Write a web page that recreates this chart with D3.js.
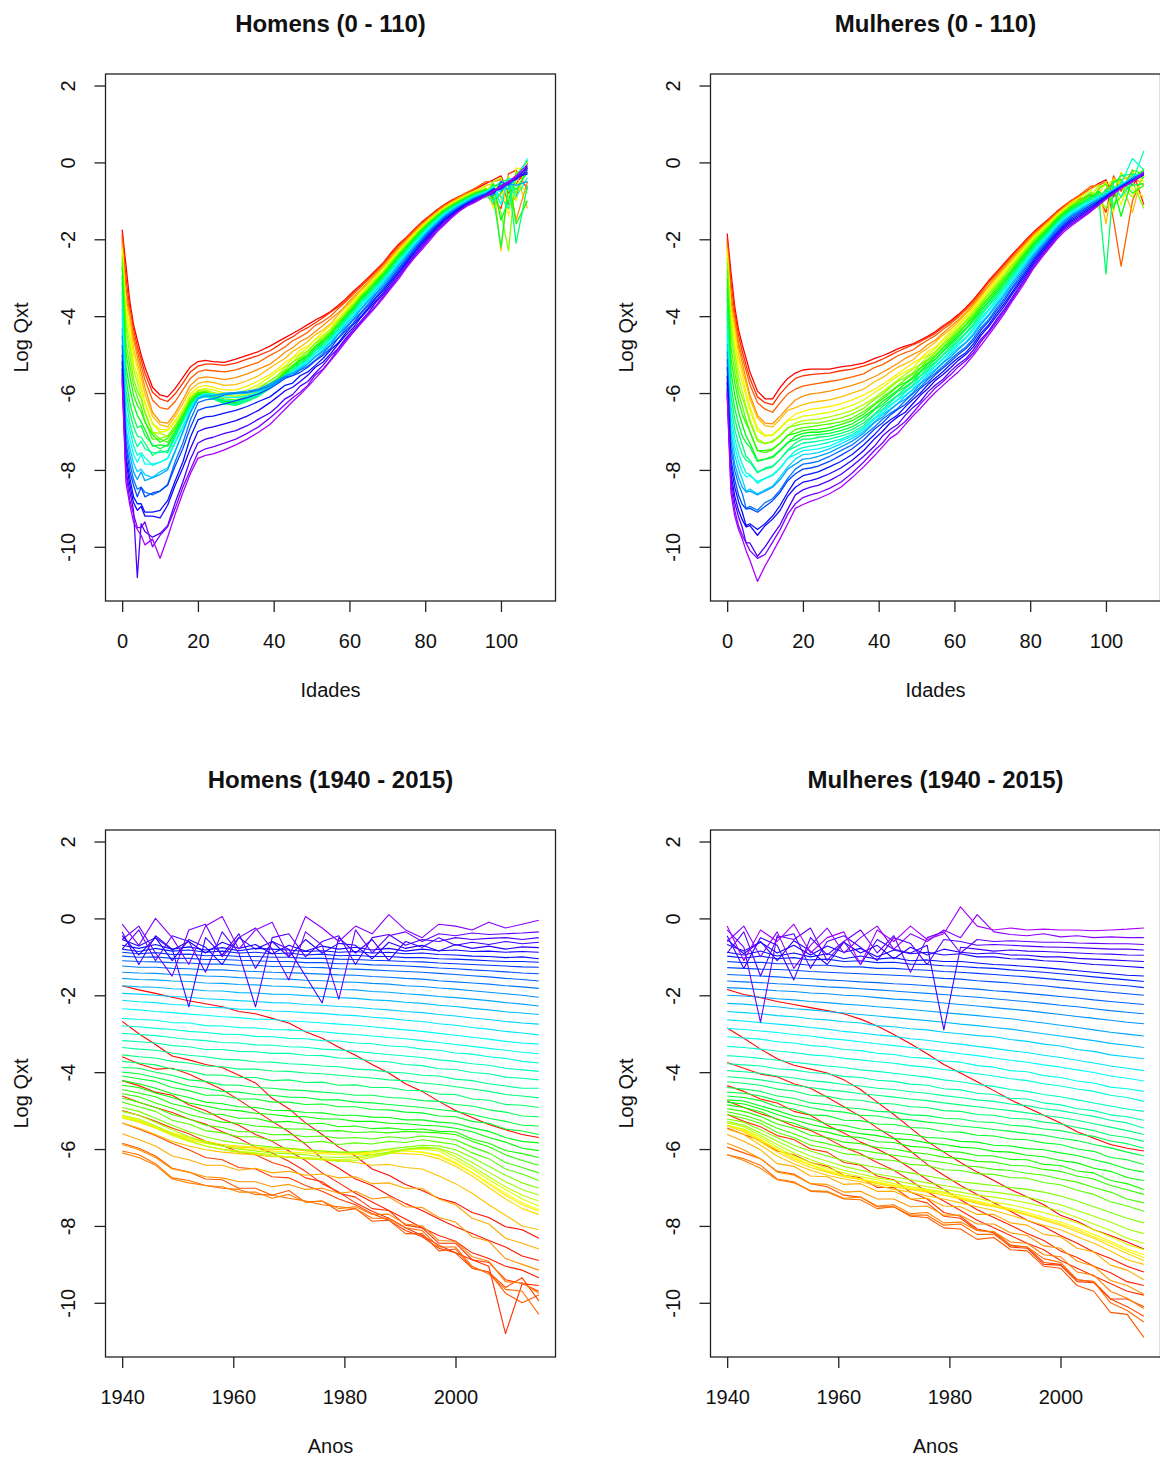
<!DOCTYPE html>
<html><head><meta charset="utf-8">
<script src="https://cdn.jsdelivr.net/npm/d3@7"></script>
<style>
body{margin:0;background:#fff}
svg{display:block}
text{font-family:"Liberation Sans",Arial,Helvetica,sans-serif;fill:#111}
</style>
</head><body>
<svg id="chart" width="1160" height="1457"></svg>
<script>
// ---------------- DATA ----------------
const years = [1940,1943,1946,1949,1952,1955,1958,1961,1964,1967,1970,1973,1976,1979,1982,1985,1988,1991,1994,1997,2000,2003,2006,2009,2012,2015];
const ages  = [0,1,2,3,4,5,6,8,10,12,14,16,18,20,22,24,27,30,33,36,
               39,41,43,45,47,49,51,53,55,57,59,61,63,65,67,69,71,73,75,77,79,81,83,85,87,89,91,93,
               96,98,100,102,104,107,110];

// log q(x,t): one row per age (order of `ages`), one value per year (order of `years`)
const menLogQ = [
 [-1.75,-1.86,-1.95,-2.05,-2.14,-2.22,-2.3,-2.42,-2.48,-2.6,-2.72,-2.95,-3.12,-3.35,-3.56,-3.8,-4.02,-4.3,-4.5,-4.76,-5.0,-5.18,-5.36,-5.5,-5.62,-5.7],
 [-2.68,-3.0,-3.28,-3.58,-3.68,-3.8,-3.88,-4.08,-4.28,-4.68,-4.95,-5.32,-5.62,-5.95,-6.18,-6.52,-6.68,-6.92,-7.08,-7.28,-7.4,-7.65,-7.78,-8.02,-8.1,-8.32],
 [-3.6,-3.78,-3.92,-3.9,-4.05,-4.25,-4.45,-4.72,-5.0,-5.28,-5.55,-5.88,-6.25,-6.5,-6.78,-6.95,-7.2,-7.42,-7.6,-7.82,-8.02,-8.2,-8.38,-8.55,-8.78,-8.9],
 [-4.22,-4.35,-4.52,-4.6,-4.85,-5.0,-5.22,-5.38,-5.62,-5.8,-6.05,-6.3,-6.62,-6.88,-7.15,-7.38,-7.6,-7.82,-8.05,-8.25,-8.4,-8.7,-8.85,-9.05,-9.15,-9.35],
 [-4.62,-4.78,-4.92,-5.05,-5.22,-5.35,-5.55,-5.72,-5.95,-6.1,-6.32,-6.58,-6.9,-7.12,-7.4,-7.62,-7.8,-8.05,-8.25,-8.5,-8.7,-8.88,-9.05,-10.8,-9.5,-9.55],
 [-5.0,-5.12,-5.28,-5.45,-5.6,-5.8,-5.9,-6.08,-6.15,-6.35,-6.48,-6.75,-6.85,-7.15,-7.25,-7.55,-7.6,-7.98,-8.05,-8.45,-8.45,-8.88,-8.95,-9.4,-9.5,-9.7],
 [-5.32,-5.48,-5.65,-5.85,-6.02,-6.22,-6.28,-6.48,-6.52,-6.72,-6.75,-6.95,-7.1,-7.3,-7.45,-7.68,-7.85,-8.12,-8.28,-8.58,-8.7,-9.1,-9.2,-9.6,-9.35,-9.95],
 [-5.85,-5.98,-6.18,-6.5,-6.6,-6.78,-6.8,-7.02,-7.02,-7.2,-7.08,-7.38,-7.35,-7.62,-7.55,-7.88,-7.85,-8.2,-8.2,-8.65,-8.6,-9.1,-9.2,-9.75,-10.0,-9.8],
 [-6.05,-6.15,-6.38,-6.75,-6.82,-6.95,-7.02,-7.05,-7.18,-7.2,-7.28,-7.35,-7.45,-7.5,-7.55,-7.8,-7.8,-8.05,-8.12,-8.55,-8.55,-9.05,-9.25,-9.65,-9.7,-10.3],
 [-6.1,-6.22,-6.42,-6.78,-6.88,-6.95,-6.98,-7.12,-7.12,-7.28,-7.18,-7.38,-7.35,-7.55,-7.5,-7.7,-7.7,-7.95,-8.0,-8.38,-8.4,-8.8,-8.92,-9.45,-9.48,-9.75],
 [-5.88,-6.02,-6.22,-6.52,-6.6,-6.72,-6.75,-6.85,-6.85,-6.98,-6.92,-7.05,-7.02,-7.15,-7.1,-7.3,-7.25,-7.5,-7.52,-7.78,-7.9,-8.28,-8.4,-8.85,-9.0,-9.15],
 [-5.6,-5.75,-5.92,-6.18,-6.28,-6.42,-6.42,-6.55,-6.5,-6.62,-6.58,-6.68,-6.65,-6.75,-6.72,-6.9,-6.88,-7.02,-7.02,-7.3,-7.45,-7.8,-7.95,-8.32,-8.45,-8.6],
 [-5.32,-5.45,-5.62,-5.8,-5.92,-6.02,-6.08,-6.12,-6.15,-6.2,-6.2,-6.25,-6.28,-6.3,-6.35,-6.42,-6.4,-6.48,-6.52,-6.7,-6.9,-7.15,-7.45,-7.72,-8.0,-8.1],
 [-5.18,-5.3,-5.45,-5.62,-5.75,-5.85,-5.92,-5.95,-5.98,-6.02,-6.0,-6.05,-6.08,-6.1,-6.12,-6.15,-6.1,-6.12,-6.15,-6.25,-6.45,-6.7,-7.0,-7.3,-7.55,-7.7],
 [-5.15,-5.25,-5.4,-5.58,-5.7,-5.8,-5.88,-5.92,-5.95,-5.98,-5.98,-6.02,-6.05,-6.08,-6.1,-6.08,-6.02,-6.05,-6.08,-6.18,-6.38,-6.62,-6.92,-7.2,-7.45,-7.62],
 [-5.18,-5.25,-5.42,-5.6,-5.72,-5.85,-5.92,-5.98,-6.02,-6.05,-6.08,-6.1,-6.12,-6.15,-6.15,-6.1,-6.02,-6.05,-6.08,-6.15,-6.35,-6.6,-6.88,-7.15,-7.4,-7.58],
 [-5.2,-5.28,-5.45,-5.65,-5.8,-5.92,-6.0,-6.05,-6.1,-6.15,-6.2,-6.22,-6.25,-6.28,-6.25,-6.18,-6.1,-6.02,-6.0,-6.05,-6.28,-6.52,-6.8,-7.05,-7.3,-7.48],
 [-5.12,-5.22,-5.4,-5.6,-5.78,-5.92,-6.02,-6.08,-6.12,-6.18,-6.22,-6.25,-6.28,-6.32,-6.3,-6.22,-6.12,-6.02,-5.98,-6.0,-6.2,-6.45,-6.72,-6.98,-7.2,-7.35],
 [-5.02,-5.12,-5.3,-5.5,-5.68,-5.82,-5.92,-6.0,-6.05,-6.1,-6.12,-6.15,-6.2,-6.22,-6.2,-6.15,-6.08,-6.0,-5.95,-5.98,-6.12,-6.35,-6.6,-6.85,-7.05,-7.2],
 [-4.92,-5.02,-5.2,-5.38,-5.55,-5.68,-5.78,-5.85,-5.9,-5.95,-5.98,-6.02,-6.05,-6.08,-6.08,-6.05,-6.0,-5.95,-5.9,-5.92,-6.02,-6.22,-6.45,-6.68,-6.88,-7.02],
 [-4.78,-4.9,-5.02,-5.25,-5.35,-5.52,-5.58,-5.68,-5.68,-5.78,-5.75,-5.83,-5.8,-5.88,-5.84,-5.87,-5.8,-5.83,-5.76,-5.82,-5.88,-6.1,-6.25,-6.52,-6.65,-6.82],
 [-4.67,-4.78,-4.92,-5.1,-5.22,-5.38,-5.44,-5.55,-5.55,-5.63,-5.62,-5.68,-5.66,-5.72,-5.7,-5.74,-5.68,-5.72,-5.66,-5.7,-5.76,-5.95,-6.1,-6.35,-6.48,-6.62],
 [-4.56,-4.64,-4.8,-4.94,-5.1,-5.2,-5.3,-5.33,-5.4,-5.43,-5.48,-5.48,-5.53,-5.52,-5.57,-5.55,-5.58,-5.54,-5.56,-5.58,-5.62,-5.8,-5.94,-6.15,-6.3,-6.42],
 [-4.45,-4.54,-4.64,-4.82,-4.92,-5.08,-5.1,-5.2,-5.2,-5.3,-5.28,-5.35,-5.33,-5.42,-5.4,-5.47,-5.45,-5.5,-5.48,-5.54,-5.55,-5.74,-5.85,-6.04,-6.12,-6.22],
 [-4.34,-4.4,-4.54,-4.66,-4.8,-4.88,-4.97,-5.0,-5.07,-5.1,-5.15,-5.16,-5.22,-5.22,-5.28,-5.28,-5.33,-5.34,-5.38,-5.4,-5.46,-5.55,-5.7,-5.82,-5.98,-6.04],
 [-4.22,-4.3,-4.42,-4.56,-4.66,-4.78,-4.82,-4.9,-4.92,-4.99,-5.0,-5.05,-5.06,-5.12,-5.12,-5.17,-5.18,-5.24,-5.24,-5.3,-5.33,-5.45,-5.54,-5.7,-5.8,-5.84],
 [-4.1,-4.17,-4.24,-4.4,-4.48,-4.6,-4.6,-4.7,-4.7,-4.78,-4.78,-4.84,-4.83,-4.9,-4.9,-4.97,-4.98,-5.04,-5.06,-5.14,-5.16,-5.28,-5.33,-5.48,-5.53,-5.62],
 [-4.0,-4.04,-4.14,-4.24,-4.36,-4.42,-4.5,-4.52,-4.58,-4.6,-4.65,-4.66,-4.72,-4.72,-4.78,-4.8,-4.84,-4.88,-4.92,-4.97,-5.02,-5.1,-5.2,-5.28,-5.38,-5.4],
 [-3.88,-3.9,-4.0,-4.08,-4.2,-4.24,-4.33,-4.34,-4.4,-4.42,-4.46,-4.48,-4.52,-4.55,-4.6,-4.6,-4.66,-4.68,-4.74,-4.76,-4.84,-4.88,-4.98,-5.04,-5.14,-5.16],
 [-3.72,-3.76,-3.81,-3.92,-3.97,-4.07,-4.08,-4.14,-4.14,-4.22,-4.2,-4.27,-4.26,-4.34,-4.33,-4.4,-4.4,-4.47,-4.48,-4.57,-4.58,-4.7,-4.73,-4.84,-4.86,-4.92],
 [-3.55,-3.6,-3.63,-3.72,-3.76,-3.84,-3.86,-3.92,-3.92,-3.97,-3.98,-4.02,-4.04,-4.08,-4.12,-4.15,-4.2,-4.22,-4.28,-4.32,-4.38,-4.44,-4.5,-4.58,-4.62,-4.67],
 [-3.36,-3.4,-3.43,-3.5,-3.56,-3.6,-3.66,-3.68,-3.73,-3.74,-3.78,-3.8,-3.84,-3.86,-3.92,-3.94,-4.0,-4.02,-4.08,-4.1,-4.18,-4.22,-4.3,-4.36,-4.42,-4.42],
 [-3.18,-3.21,-3.24,-3.31,-3.34,-3.41,-3.41,-3.46,-3.47,-3.51,-3.51,-3.56,-3.57,-3.63,-3.64,-3.71,-3.73,-3.8,-3.83,-3.91,-3.93,-4.01,-4.04,-4.13,-4.16,-4.2],
 [-2.99,-3.02,-3.05,-3.1,-3.15,-3.18,-3.23,-3.24,-3.29,-3.3,-3.34,-3.35,-3.4,-3.42,-3.46,-3.5,-3.54,-3.58,-3.62,-3.68,-3.72,-3.78,-3.82,-3.9,-3.94,-3.98],
 [-2.8,-2.82,-2.86,-2.89,-2.94,-2.97,-3.01,-3.02,-3.07,-3.08,-3.12,-3.13,-3.18,-3.19,-3.24,-3.26,-3.32,-3.34,-3.4,-3.43,-3.5,-3.53,-3.6,-3.64,-3.72,-3.76],
 [-2.6,-2.63,-2.65,-2.71,-2.72,-2.79,-2.8,-2.84,-2.85,-2.89,-2.9,-2.93,-2.95,-2.99,-3.02,-3.06,-3.1,-3.13,-3.18,-3.23,-3.28,-3.33,-3.38,-3.43,-3.48,-3.52],
 [-2.35,-2.38,-2.42,-2.45,-2.49,-2.52,-2.56,-2.58,-2.62,-2.63,-2.67,-2.69,-2.72,-2.75,-2.78,-2.82,-2.86,-2.9,-2.94,-2.99,-3.04,-3.09,-3.14,-3.2,-3.24,-3.27],
 [-2.13,-2.17,-2.19,-2.24,-2.26,-2.31,-2.32,-2.36,-2.37,-2.41,-2.42,-2.45,-2.47,-2.51,-2.53,-2.57,-2.6,-2.65,-2.68,-2.74,-2.78,-2.84,-2.88,-2.94,-2.98,-3.03],
 [-1.95,-1.97,-2.0,-2.03,-2.05,-2.09,-2.11,-2.14,-2.16,-2.19,-2.2,-2.24,-2.26,-2.29,-2.31,-2.35,-2.38,-2.42,-2.45,-2.5,-2.54,-2.59,-2.63,-2.68,-2.72,-2.75],
 [-1.75,-1.78,-1.79,-1.83,-1.84,-1.88,-1.89,-1.93,-1.94,-1.97,-1.98,-2.01,-2.03,-2.06,-2.08,-2.12,-2.14,-2.18,-2.21,-2.26,-2.29,-2.34,-2.38,-2.43,-2.46,-2.5],
 [-1.56,-1.59,-1.6,-1.63,-1.64,-1.68,-1.69,-1.72,-1.73,-1.76,-1.77,-1.8,-1.82,-1.85,-1.86,-1.9,-1.92,-1.96,-1.99,-2.03,-2.06,-2.1,-2.14,-2.19,-2.23,-2.28],
 [-1.4,-1.42,-1.43,-1.46,-1.47,-1.5,-1.51,-1.54,-1.55,-1.57,-1.58,-1.61,-1.62,-1.65,-1.66,-1.69,-1.71,-1.75,-1.77,-1.81,-1.84,-1.88,-1.92,-1.96,-2.0,-2.05],
 [-1.24,-1.27,-1.27,-1.3,-1.31,-1.34,-1.34,-1.37,-1.38,-1.4,-1.41,-1.43,-1.45,-1.47,-1.48,-1.51,-1.53,-1.56,-1.58,-1.62,-1.65,-1.68,-1.71,-1.75,-1.78,-1.82],
 [-1.1,-1.12,-1.13,-1.15,-1.16,-1.19,-1.19,-1.22,-1.22,-1.25,-1.25,-1.27,-1.28,-1.31,-1.32,-1.34,-1.36,-1.38,-1.4,-1.43,-1.46,-1.49,-1.52,-1.56,-1.59,-1.63],
 [-0.98,-1.01,-1.0,-1.04,-1.04,-1.07,-1.07,-1.09,-1.1,-1.12,-1.12,-1.15,-1.15,-1.18,-1.18,-1.21,-1.22,-1.24,-1.26,-1.29,-1.31,-1.34,-1.36,-1.39,-1.42,-1.44],
 [-0.88,-0.92,-0.89,-0.94,-0.93,-0.97,-0.96,-0.99,-0.99,-1.01,-1.01,-1.04,-1.04,-1.06,-1.07,-1.09,-1.1,-1.12,-1.13,-1.16,-1.18,-1.2,-1.22,-1.24,-1.26,-1.27],
 [-0.8,-0.86,-0.78,-0.85,-0.82,-0.88,-0.85,-0.9,-0.88,-0.92,-0.9,-0.95,-0.93,-0.97,-0.96,-0.99,-0.99,-1.02,-1.02,-1.05,-1.06,-1.08,-1.1,-1.12,-1.12,-1.14],
 [-0.7,-0.78,-0.68,-0.8,-0.74,-0.82,-0.76,-0.84,-0.78,-0.8,-0.82,-0.86,-0.84,-0.88,-0.86,-0.9,-0.88,-0.92,-0.9,-0.94,-0.95,-0.98,-0.99,-1.02,-1.0,-1.05],
 [-0.55,-0.72,-0.5,-0.82,-0.6,-0.9,-0.62,-0.78,-0.68,-0.92,-0.7,-0.85,-0.72,-0.8,-0.75,-0.82,-0.78,-0.85,-0.8,-0.84,-0.82,-0.86,-0.85,-0.88,-0.86,-0.88],
 [-0.45,-0.95,-0.5,-1.1,-0.55,-0.75,-1.2,-0.5,-0.8,-0.6,-1.0,-0.55,-0.9,-0.65,-0.7,-1.05,-0.62,-0.78,-0.7,-0.85,-0.68,-0.78,-0.72,-0.8,-0.74,-0.76],
 [-0.35,-1.2,-0.45,-0.8,-2.3,-0.5,-0.95,-0.4,-1.3,-0.6,-0.8,-1.5,-2.2,-0.5,-0.9,-0.55,-1.1,-0.6,-0.75,-0.5,-0.7,-0.62,-0.68,-0.6,-0.66,-0.62],
 [-0.8,-0.3,-1.1,-0.45,-0.6,-1.4,-0.35,-0.9,-2.3,-0.5,-0.4,-1.0,-0.6,-0.45,-1.2,-0.5,-0.42,-0.7,-0.55,-0.6,-0.5,-0.55,-0.52,-0.5,-0.55,-0.5],
 [-0.55,-0.2,-0.9,-1.5,-0.3,-0.15,-1.0,-0.5,-0.25,-0.8,-1.6,-0.35,-0.7,-2.1,-0.3,-0.9,-0.45,-0.35,-0.6,-0.4,-0.45,-0.38,-0.42,-0.4,-0.38,-0.35],
 [-0.15,-0.7,0.0,-0.5,-1.2,-0.2,0.05,-0.8,-0.3,-0.1,-1.0,0.05,-0.25,-0.6,-0.2,-0.4,0.1,-0.3,-0.5,-0.15,-0.2,-0.3,-0.1,-0.25,-0.15,-0.05],
 [null,null,null,null,null,null,null,null,null,null,null,null,null,null,null,null,null,null,null,null,null,null,null,null,null,null]
];

const womenLogQ = [
 [-1.85,-1.98,-2.06,-2.16,-2.24,-2.32,-2.4,-2.48,-2.62,-2.8,-3.02,-3.26,-3.52,-3.8,-4.02,-4.25,-4.48,-4.72,-4.92,-5.12,-5.32,-5.55,-5.72,-5.88,-5.98,-6.05],
 [-2.85,-3.12,-3.4,-3.65,-3.82,-3.92,-4.02,-4.2,-4.45,-4.78,-5.1,-5.45,-5.8,-6.08,-6.35,-6.6,-6.82,-7.05,-7.25,-7.45,-7.72,-7.88,-8.1,-8.25,-8.42,-8.6],
 [-3.75,-3.9,-4.05,-4.12,-4.3,-4.42,-4.65,-4.9,-5.15,-5.45,-5.72,-6.05,-6.4,-6.68,-6.95,-7.18,-7.4,-7.62,-7.85,-8.02,-8.25,-8.45,-8.68,-8.85,-9.05,-9.2],
 [-4.35,-4.5,-4.7,-4.8,-5.02,-5.12,-5.38,-5.58,-5.82,-6.0,-6.22,-6.5,-6.8,-7.05,-7.32,-7.58,-7.78,-7.98,-8.2,-8.38,-8.65,-8.82,-9.05,-9.22,-9.45,-9.55],
 [-4.75,-4.92,-5.08,-5.22,-5.4,-5.52,-5.72,-5.95,-6.12,-6.35,-6.55,-6.82,-7.12,-7.35,-7.6,-7.85,-8.05,-8.25,-8.45,-8.62,-8.9,-9.1,-9.3,-9.5,-9.7,-9.8],
 [-5.1,-5.28,-5.42,-5.65,-5.75,-6.0,-6.08,-6.35,-6.42,-6.7,-6.8,-7.12,-7.3,-7.65,-7.75,-8.08,-8.18,-8.55,-8.58,-9.0,-9.02,-9.45,-9.48,-9.9,-9.9,-10.1],
 [-5.45,-5.62,-5.78,-6.05,-6.15,-6.35,-6.45,-6.68,-6.75,-7.0,-7.0,-7.3,-7.4,-7.75,-7.8,-8.12,-8.15,-8.5,-8.55,-8.95,-9.0,-9.4,-9.45,-9.9,-10.1,-10.35],
 [-5.95,-6.1,-6.25,-6.58,-6.65,-6.9,-6.98,-7.2,-7.25,-7.5,-7.5,-7.75,-7.78,-8.05,-8.08,-8.35,-8.3,-8.62,-8.65,-9.05,-9.1,-9.55,-9.7,-10.25,-10.3,-10.9],
 [-6.15,-6.25,-6.42,-6.78,-6.85,-7.1,-7.12,-7.3,-7.32,-7.55,-7.5,-7.72,-7.72,-7.98,-7.95,-8.22,-8.22,-8.52,-8.55,-8.85,-8.95,-9.4,-9.45,-10.0,-10.2,-10.5],
 [-6.15,-6.3,-6.5,-6.8,-6.88,-7.08,-7.1,-7.28,-7.25,-7.48,-7.45,-7.68,-7.65,-7.92,-7.9,-8.12,-8.15,-8.42,-8.45,-8.75,-8.8,-9.2,-9.28,-9.7,-9.88,-10.15],
 [-5.85,-6.02,-6.25,-6.6,-6.68,-6.9,-6.92,-7.12,-7.1,-7.3,-7.3,-7.5,-7.48,-7.72,-7.72,-7.95,-7.95,-8.18,-8.25,-8.52,-8.58,-8.92,-9.05,-9.42,-9.55,-9.78],
 [-5.62,-5.8,-6.02,-6.38,-6.45,-6.7,-6.72,-6.92,-6.9,-7.1,-7.1,-7.3,-7.28,-7.48,-7.5,-7.7,-7.7,-7.92,-7.98,-8.22,-8.28,-8.58,-8.68,-9.02,-9.15,-9.4],
 [-5.48,-5.62,-5.9,-6.18,-6.38,-6.55,-6.68,-6.78,-6.85,-6.95,-7.05,-7.12,-7.22,-7.3,-7.4,-7.5,-7.6,-7.72,-7.85,-7.98,-8.1,-8.28,-8.45,-8.65,-8.88,-9.0],
 [-5.4,-5.55,-5.82,-6.08,-6.3,-6.48,-6.6,-6.72,-6.8,-6.9,-6.98,-7.05,-7.12,-7.2,-7.3,-7.42,-7.5,-7.6,-7.72,-7.85,-7.98,-8.15,-8.32,-8.52,-8.72,-8.9],
 [-5.38,-5.52,-5.78,-6.02,-6.25,-6.42,-6.58,-6.7,-6.78,-6.88,-6.95,-7.02,-7.1,-7.2,-7.28,-7.38,-7.48,-7.58,-7.7,-7.82,-7.95,-8.1,-8.28,-8.45,-8.65,-8.82],
 [-5.38,-5.5,-5.75,-6.0,-6.22,-6.4,-6.55,-6.68,-6.78,-6.85,-6.95,-7.02,-7.08,-7.15,-7.25,-7.35,-7.45,-7.55,-7.65,-7.78,-7.9,-8.05,-8.22,-8.4,-8.6,-8.75],
 [-5.38,-5.48,-5.7,-5.95,-6.18,-6.35,-6.5,-6.62,-6.72,-6.8,-6.9,-6.98,-7.05,-7.12,-7.2,-7.28,-7.38,-7.45,-7.55,-7.65,-7.78,-7.92,-8.1,-8.28,-8.48,-8.62],
 [-5.32,-5.42,-5.65,-5.88,-6.1,-6.28,-6.42,-6.55,-6.65,-6.75,-6.82,-6.9,-6.98,-7.05,-7.12,-7.2,-7.25,-7.32,-7.4,-7.5,-7.62,-7.78,-7.95,-8.12,-8.32,-8.45],
 [-5.28,-5.38,-5.58,-5.8,-6.0,-6.18,-6.32,-6.45,-6.55,-6.65,-6.72,-6.8,-6.88,-6.95,-7.02,-7.08,-7.12,-7.18,-7.25,-7.35,-7.45,-7.6,-7.75,-7.9,-8.08,-8.2],
 [-5.22,-5.3,-5.5,-5.7,-5.9,-6.05,-6.18,-6.3,-6.4,-6.48,-6.55,-6.62,-6.7,-6.78,-6.85,-6.9,-6.95,-7.0,-7.05,-7.12,-7.22,-7.35,-7.5,-7.65,-7.8,-7.92],
 [-5.1,-5.2,-5.33,-5.57,-5.7,-5.9,-5.98,-6.12,-6.16,-6.27,-6.3,-6.4,-6.43,-6.54,-6.56,-6.64,-6.66,-6.74,-6.76,-6.87,-6.93,-7.07,-7.18,-7.37,-7.48,-7.62],
 [-5.03,-5.12,-5.26,-5.46,-5.6,-5.77,-5.86,-5.97,-6.03,-6.1,-6.16,-6.22,-6.3,-6.35,-6.43,-6.46,-6.53,-6.56,-6.63,-6.68,-6.78,-6.86,-7.0,-7.12,-7.3,-7.4],
 [-4.95,-5.02,-5.15,-5.35,-5.46,-5.64,-5.7,-5.82,-5.86,-5.96,-6.0,-6.08,-6.13,-6.21,-6.25,-6.32,-6.34,-6.42,-6.44,-6.53,-6.58,-6.7,-6.78,-6.95,-7.06,-7.18],
 [-4.85,-4.92,-5.03,-5.23,-5.33,-5.5,-5.56,-5.67,-5.7,-5.81,-5.83,-5.93,-5.96,-6.06,-6.08,-6.17,-6.18,-6.27,-6.28,-6.4,-6.43,-6.57,-6.62,-6.82,-6.9,-7.05],
 [-4.78,-4.83,-4.95,-5.1,-5.24,-5.36,-5.45,-5.52,-5.6,-5.65,-5.73,-5.76,-5.84,-5.88,-5.95,-5.98,-6.06,-6.08,-6.16,-6.2,-6.3,-6.36,-6.5,-6.58,-6.74,-6.82],
 [-4.72,-4.75,-4.88,-5.0,-5.14,-5.22,-5.35,-5.38,-5.48,-5.51,-5.59,-5.62,-5.7,-5.72,-5.8,-5.82,-5.9,-5.92,-5.99,-6.02,-6.1,-6.17,-6.28,-6.38,-6.52,-6.6],
 [-4.62,-4.66,-4.74,-4.9,-4.96,-5.11,-5.13,-5.25,-5.26,-5.35,-5.36,-5.44,-5.46,-5.55,-5.56,-5.64,-5.66,-5.74,-5.76,-5.84,-5.88,-6.0,-6.06,-6.22,-6.28,-6.4],
 [-4.52,-4.55,-4.62,-4.74,-4.83,-4.92,-5.0,-5.04,-5.12,-5.14,-5.21,-5.24,-5.3,-5.34,-5.4,-5.44,-5.49,-5.54,-5.6,-5.64,-5.72,-5.78,-5.88,-5.97,-6.08,-6.18],
 [-4.4,-4.44,-4.5,-4.62,-4.68,-4.8,-4.84,-4.92,-4.95,-5.02,-5.04,-5.11,-5.13,-5.2,-5.22,-5.29,-5.31,-5.38,-5.41,-5.48,-5.52,-5.61,-5.67,-5.79,-5.86,-5.98],
 [-4.25,-4.29,-4.34,-4.44,-4.49,-4.6,-4.63,-4.71,-4.73,-4.81,-4.83,-4.9,-4.92,-5.0,-5.02,-5.1,-5.12,-5.2,-5.22,-5.3,-5.35,-5.44,-5.52,-5.64,-5.7,-5.8],
 [-4.12,-4.15,-4.2,-4.27,-4.34,-4.4,-4.46,-4.5,-4.56,-4.6,-4.65,-4.7,-4.74,-4.8,-4.85,-4.9,-4.95,-5.0,-5.06,-5.12,-5.18,-5.25,-5.34,-5.43,-5.52,-5.62],
 [-3.96,-3.99,-4.03,-4.1,-4.15,-4.22,-4.26,-4.32,-4.36,-4.42,-4.45,-4.51,-4.55,-4.61,-4.66,-4.72,-4.76,-4.83,-4.87,-4.95,-5.0,-5.08,-5.15,-5.25,-5.32,-5.45],
 [-3.78,-3.81,-3.84,-3.91,-3.94,-4.01,-4.04,-4.11,-4.14,-4.21,-4.24,-4.31,-4.34,-4.43,-4.46,-4.55,-4.58,-4.68,-4.7,-4.8,-4.85,-4.95,-5.0,-5.11,-5.16,-5.25],
 [-3.57,-3.6,-3.64,-3.69,-3.74,-3.79,-3.84,-3.88,-3.94,-3.98,-4.03,-4.08,-4.13,-4.2,-4.25,-4.32,-4.37,-4.45,-4.5,-4.58,-4.64,-4.72,-4.8,-4.88,-4.96,-5.02],
 [-3.33,-3.36,-3.4,-3.45,-3.49,-3.55,-3.58,-3.64,-3.68,-3.73,-3.77,-3.83,-3.87,-3.93,-3.98,-4.04,-4.1,-4.17,-4.22,-4.3,-4.36,-4.44,-4.5,-4.6,-4.66,-4.76],
 [-3.08,-3.11,-3.14,-3.21,-3.24,-3.31,-3.34,-3.41,-3.44,-3.51,-3.54,-3.61,-3.64,-3.71,-3.74,-3.83,-3.87,-3.96,-3.99,-4.09,-4.14,-4.23,-4.28,-4.39,-4.43,-4.5],
 [-2.86,-2.89,-2.93,-2.97,-3.02,-3.06,-3.12,-3.16,-3.21,-3.26,-3.31,-3.36,-3.41,-3.46,-3.52,-3.57,-3.63,-3.69,-3.74,-3.81,-3.87,-3.94,-4.01,-4.1,-4.16,-4.23],
 [-2.64,-2.67,-2.71,-2.75,-2.79,-2.84,-2.88,-2.94,-2.98,-3.03,-3.07,-3.13,-3.17,-3.23,-3.27,-3.33,-3.38,-3.44,-3.49,-3.56,-3.62,-3.69,-3.76,-3.84,-3.9,-3.96],
 [-2.42,-2.45,-2.48,-2.53,-2.56,-2.61,-2.64,-2.69,-2.72,-2.79,-2.82,-2.87,-2.9,-2.96,-3.0,-3.05,-3.08,-3.15,-3.2,-3.27,-3.32,-3.41,-3.46,-3.55,-3.6,-3.65],
 [-2.21,-2.23,-2.27,-2.3,-2.35,-2.38,-2.42,-2.46,-2.5,-2.54,-2.58,-2.62,-2.66,-2.7,-2.75,-2.79,-2.84,-2.88,-2.94,-3.0,-3.06,-3.12,-3.18,-3.25,-3.3,-3.36],
 [-2.0,-2.02,-2.05,-2.09,-2.12,-2.16,-2.19,-2.23,-2.26,-2.3,-2.33,-2.37,-2.41,-2.45,-2.49,-2.53,-2.57,-2.61,-2.67,-2.72,-2.78,-2.84,-2.9,-2.96,-3.01,-3.06],
 [-1.8,-1.82,-1.85,-1.88,-1.9,-1.94,-1.96,-2.0,-2.02,-2.06,-2.1,-2.12,-2.16,-2.2,-2.24,-2.28,-2.32,-2.36,-2.4,-2.45,-2.5,-2.55,-2.6,-2.65,-2.7,-2.74],
 [-1.63,-1.65,-1.67,-1.7,-1.72,-1.75,-1.78,-1.8,-1.83,-1.86,-1.89,-1.92,-1.95,-1.98,-2.02,-2.05,-2.09,-2.13,-2.17,-2.21,-2.26,-2.3,-2.35,-2.4,-2.44,-2.48],
 [-1.46,-1.48,-1.5,-1.52,-1.55,-1.57,-1.6,-1.62,-1.65,-1.67,-1.7,-1.72,-1.75,-1.78,-1.81,-1.84,-1.88,-1.91,-1.95,-1.99,-2.03,-2.07,-2.12,-2.16,-2.2,-2.24],
 [-1.28,-1.3,-1.32,-1.33,-1.35,-1.38,-1.4,-1.42,-1.44,-1.46,-1.48,-1.5,-1.53,-1.56,-1.58,-1.62,-1.65,-1.68,-1.72,-1.75,-1.8,-1.84,-1.88,-1.92,-1.96,-2.0],
 [-1.12,-1.15,-1.14,-1.18,-1.18,-1.22,-1.22,-1.26,-1.26,-1.3,-1.3,-1.33,-1.35,-1.38,-1.4,-1.43,-1.46,-1.49,-1.52,-1.56,-1.6,-1.64,-1.68,-1.72,-1.75,-1.8],
 [-0.98,-1.03,-0.98,-1.05,-1.02,-1.08,-1.06,-1.12,-1.1,-1.15,-1.14,-1.19,-1.2,-1.23,-1.25,-1.28,-1.3,-1.34,-1.37,-1.4,-1.44,-1.48,-1.52,-1.56,-1.6,-1.64],
 [-0.88,-0.95,-0.85,-0.98,-0.9,-1.0,-0.92,-1.05,-0.98,-1.06,-1.02,-1.1,-1.08,-1.12,-1.12,-1.16,-1.2,-1.22,-1.25,-1.28,-1.32,-1.36,-1.4,-1.44,-1.48,-1.5],
 [-0.68,-0.85,-0.62,-0.9,-0.7,-0.95,-0.72,-0.88,-0.78,-1.0,-0.82,-0.92,-0.88,-0.95,-0.92,-1.0,-1.0,-1.05,-1.06,-1.1,-1.12,-1.16,-1.2,-1.22,-1.25,-1.28],
 [-0.55,-0.92,-0.6,-1.1,-0.58,-0.85,-1.2,-0.62,-0.9,-0.7,-1.05,-0.75,-0.95,-0.8,-0.88,-0.92,-0.9,-0.95,-0.96,-1.0,-1.0,-1.04,-1.06,-1.08,-1.1,-1.12],
 [-0.45,-1.3,-0.5,-0.7,-1.6,-0.5,-0.95,-0.6,-1.2,-0.55,-0.8,-0.9,-0.7,-2.9,-0.75,-0.8,-0.85,-0.82,-0.85,-0.86,-0.88,-0.9,-0.92,-0.93,-0.95,-0.96],
 [-0.9,-0.35,-1.5,-0.5,-0.4,-1.3,-0.6,-0.45,-0.75,-1.1,-0.5,-0.65,-1.2,-0.55,-0.6,-0.7,-0.68,-0.7,-0.72,-0.74,-0.75,-0.76,-0.78,-0.8,-0.8,-0.82],
 [-0.3,-0.75,-2.7,-0.45,-0.55,-0.25,-1.1,-0.6,-0.3,-0.9,-0.45,-1.4,-0.5,-0.35,-0.9,-0.55,-0.6,-0.58,-0.6,-0.62,-0.62,-0.64,-0.65,-0.66,-0.66,-0.68],
 [-0.6,-0.2,-1.0,-0.35,-1.3,-0.7,-0.25,-0.9,-0.5,-0.2,-0.8,-0.4,-0.6,-0.3,-0.5,0.1,-0.35,-0.42,-0.45,-0.4,-0.48,-0.45,-0.5,-0.48,-0.5,-0.5],
 [-0.2,-1.1,-0.3,-0.6,-0.15,-0.9,-0.5,-0.35,-1.2,-0.3,-0.6,-0.2,-0.55,-0.4,0.3,-0.2,-0.3,-0.25,-0.3,-0.28,-0.3,-0.3,-0.32,-0.3,-0.28,-0.25]
];

const yTicks    = [-10,-8,-6,-4,-2,0,2];
const ageTicks  = [0,20,40,60,80,100];
const yearTicks = [1940,1960,1980,2000];
const panelTitles = ["Homens (0 - 110)","Mulheres (0 - 110)","Homens (1940 - 2015)","Mulheres (1940 - 2015)"];
const xLabels = ["Idades","Idades","Anos","Anos"];
const yLabel = "Log Qxt";

// sanity check of table shapes
[menLogQ, womenLogQ].forEach((m, k) => {
  if (m.length !== ages.length) throw new Error("table " + k + " has " + m.length + " rows, expected " + ages.length);
  m.forEach((r, i) => { if (r.length !== years.length) throw new Error("table " + k + " age " + ages[i] + " has " + r.length); });
});

// ---------------- DRAW ----------------
const svg = d3.select("#chart");
const W = 450, H = 527;
const panels = [
  {title:panelTitles[0], data:menLogQ,   kind:"age",  left:105.5, top:74},
  {title:panelTitles[1], data:womenLogQ, kind:"age",  left:710.5, top:74},
  {title:panelTitles[2], data:menLogQ,   kind:"year", left:105.5, top:830},
  {title:panelTitles[3], data:womenLogQ, kind:"year", left:710.5, top:830}
];
const rainbow = t => d3.hsl(280 * t, 1, 0.5).toString();

panels.forEach((p, pi) => {
  const g = svg.append("g");
  const y = d3.scaleLinear().domain([-11.41, 2.30]).range([p.top + H, p.top]);
  const x = p.kind === "age"
    ? d3.scaleLinear().domain([-4.4, 114.4]).range([p.left, p.left + W])
    : d3.scaleLinear().domain([1937, 2018]).range([p.left, p.left + W]);

  const clipId = "clip" + pi;
  svg.append("clipPath").attr("id", clipId).append("rect")
    .attr("x", p.left).attr("y", p.top).attr("width", W).attr("height", H);

  const lines = g.append("g").attr("clip-path", `url(#${clipId})`).attr("fill", "none");
  const line = d3.line().defined(d => d[1] !== null).x(d => x(d[0])).y(d => y(d[1]));

  if (p.kind === "age") {
    years.forEach((yr, j) => {
      const pts = ages.map((a, i) => [a, p.data[i][j]]);
      lines.append("path").attr("d", line(pts))
        .attr("stroke", rainbow(j / (years.length - 1)))
        .attr("stroke-width", 1.3).attr("stroke-linejoin", "round");
    });
  } else {
    ages.forEach((a, i) => {
      const pts = years.map((yr, j) => [yr, p.data[i][j]]);
      lines.append("path").attr("d", line(pts))
        .attr("stroke", rainbow(a / 110))
        .attr("stroke-width", 1.1).attr("stroke-linejoin", "round");
    });
  }

  g.append("rect").attr("x", p.left).attr("y", p.top).attr("width", W).attr("height", H)
    .attr("fill", "none").attr("stroke", "#222").attr("stroke-width", 1.3);

  const ya = g.append("g").attr("transform", `translate(${p.left},0)`)
    .call(d3.axisLeft(y).tickValues(yTicks).tickSize(11).tickFormat(d => d));
  ya.select(".domain").remove();
  ya.selectAll("line").attr("stroke", "#222").attr("stroke-width", 1.3);
  ya.selectAll("text")
    .attr("transform", "rotate(-90)").attr("x", 0).attr("y", -31).attr("dy", 0)
    .attr("text-anchor", "middle").style("font-size", "20px")
    .style("font-family", '"Liberation Sans",Arial,sans-serif').attr("fill", "#111");

  const xa = g.append("g").attr("transform", `translate(0,${p.top + H})`)
    .call(d3.axisBottom(x).tickValues(p.kind === "age" ? ageTicks : yearTicks).tickSize(11).tickFormat(d => d));
  xa.select(".domain").remove();
  xa.selectAll("line").attr("stroke", "#222").attr("stroke-width", 1.3);
  xa.selectAll("text").attr("y", 47).attr("dy", 0).style("font-size", "20px")
    .style("font-family", '"Liberation Sans",Arial,sans-serif').attr("fill", "#111");

  const cx = p.left + W / 2;
  g.append("text").attr("x", cx).attr("y", p.top - 42).attr("text-anchor", "middle")
    .style("font-size", "24px").style("font-weight", "bold").text(p.title);
  g.append("text").attr("x", cx).attr("y", p.top + H + 96).attr("text-anchor", "middle")
    .style("font-size", "20px").text(xLabels[pi]);
  g.append("text").attr("transform", `translate(${p.left - 78},${p.top + H / 2}) rotate(-90)`)
    .attr("text-anchor", "middle").style("font-size", "20px").text(yLabel);
});
</script>
</body></html>
